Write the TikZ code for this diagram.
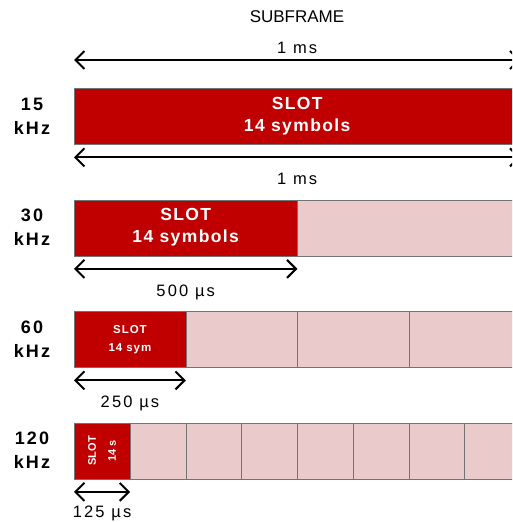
\documentclass[tikz,border=0pt]{standalone}
\usepackage{fontspec}
\setmainfont{Liberation Sans}
\newfontfamily\trackfont[LetterSpace=8]{Liberation Sans}
\newfontfamily\durfont[LetterSpace=13]{Liberation Sans}
\newfontfamily\widefont[LetterSpace=12]{Liberation Sans}
\usetikzlibrary{arrows.meta,positioning}
\definecolor{slotred}{HTML}{C00000}
\definecolor{slotpink}{HTML}{EBCACB}

\begin{document}
\begin{tikzpicture}[x=1pt,y=-1pt,>={Straight Barb[length=9pt,width=18pt]},
  slot/.style={draw=black!55,fill=slotred,text=white,inner sep=0pt,minimum height=56pt,anchor=north west,align=center,font=\trackfont\bfseries\fontsize{17.5}{22}\selectfont},
  rest/.style={draw=black!55,fill=slotpink,inner sep=0pt,minimum height=56pt,anchor=north west},
  freq/.style={font=\widefont\bfseries\fontsize{18}{24}\selectfont,align=center},
  span/.style={<->,line width=2pt},
  dur/.style={font=\durfont\fontsize{16.5}{18}\selectfont}]
\path[use as bounding box,clip] (0,0) rectangle (512,522);

% 15 kHz: one slot fills the subframe
\node[font=\fontsize{17}{20}\selectfont] (sub) at (297,17) {SUBFRAME};
\node[slot,minimum width=446pt] (s15) at (74,88) {SLOT\\14 symbols};
\node[freq] (f15) at (32,116) {15\\kHz};
\draw[span] ([yshift=28pt]s15.north west) -- node[above=2pt,dur] {1 ms} ([yshift=28pt]s15.north east);
\draw[span] ([yshift=-13pt]s15.south west) -- node[below=11pt,dur] {1 ms} ([yshift=-13pt]s15.south east);

% 30 kHz
\node[slot,minimum width=223pt] (s30) at (74,199.5) {SLOT\\14 symbols};
\node[rest,minimum width=223pt] (r30) at (297,199.5) {};
\node[freq] (f30) at (32,227.5) {30\\kHz};
\draw[span] ([yshift=-13pt]s30.south west) -- node[below=12pt,dur] {500 µs} ([yshift=-13pt]s30.south east);

% 60 kHz
\node[slot,minimum width=111.5pt,font=\trackfont\bfseries\fontsize{11.5}{18}\selectfont] (s60) at (74,311) {SLOT\\14 sym};
\foreach \i in {1,2,3}
  \node[rest,minimum width=111.5pt] (r60-\i) at ({74+111.5*\i},311) {};
\node[freq] (f60) at (32,339) {60\\kHz};
\draw[span] ([yshift=-13pt]s60.south west) -- node[below=11pt,dur] {250 µs} ([yshift=-13pt]s60.south east);

% 120 kHz
\node[slot,minimum width=55.75pt] (s120) at (74,422.5) {};
\node[rotate=90,text=white,align=center,font=\bfseries\fontsize{11}{20}\selectfont] (t120) at (s120.center) {SLOT\\14 s};
\foreach \i in {1,...,7}
  \node[rest,minimum width=55.75pt] (r120-\i) at ({74+55.75*\i},422.5) {};
\node[freq] (f120) at (32,450.5) {120\\kHz};
\draw[span] ([yshift=-13pt]s120.south west) -- node[below=10pt,dur] {125 µs} ([yshift=-13pt]s120.south east);
\end{tikzpicture}
\end{document}
